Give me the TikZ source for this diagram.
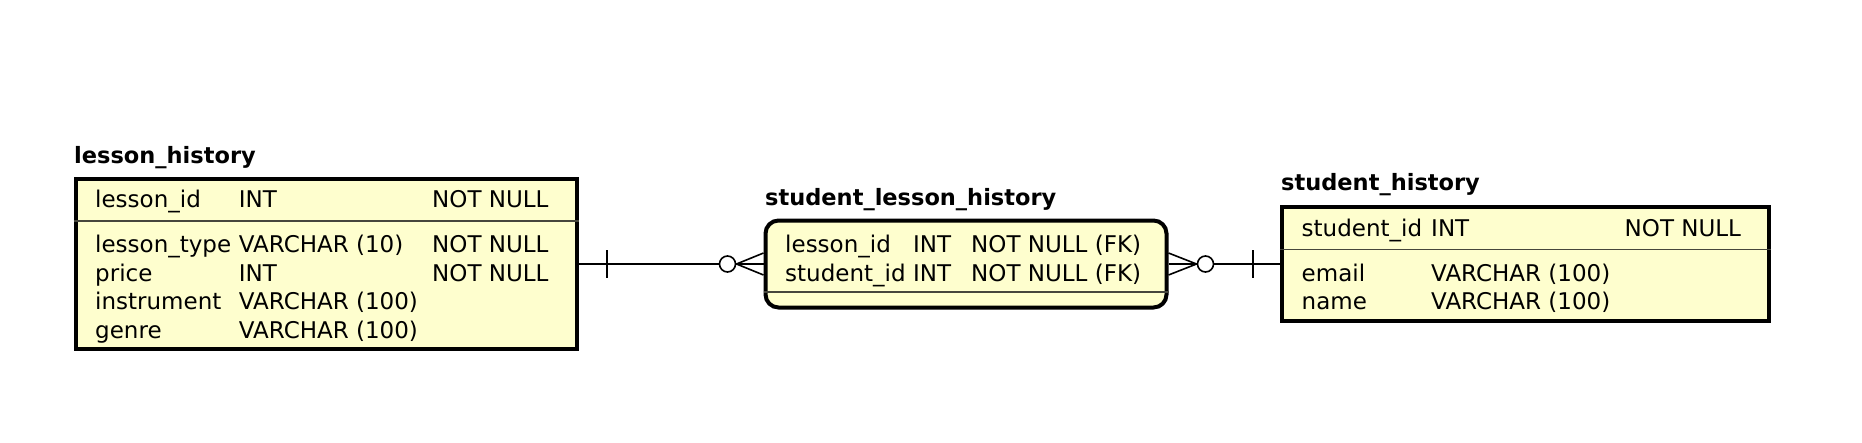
\documentclass[tikz,border=0pt]{standalone}
\usepackage{fontspec}
\setmainfont{DejaVu Sans}
\newfontfamily\titlefont{DejaVu Sans Bold}
\usetikzlibrary{positioning,calc}
\definecolor{tablefill}{RGB}{254,254,206}
\definecolor{seprule}{RGB}{70,70,60}

\begin{document}
\begin{tikzpicture}[x=1pt,y=-1pt,
  font=\fontsize{23}{28}\selectfont,
  tbl/.style={draw,line width=4pt,fill=tablefill,inner sep=0pt},
  sep/.style={draw=seprule,line width=1.5pt},
  ttl/.style={anchor=base west,inner sep=0pt,font=\fontsize{22.5}{28}\titlefont},
  cell/.style={anchor=base west,inner sep=0pt},
  rel/.style={line width=1.6pt}]
\useasboundingbox (0,0) rectangle (1862,442);

% lesson_history
\node[tbl,minimum width=501pt,minimum height=170pt] (lh) at (326,264) {};
\node[ttl] (lhtitle) at (74,163) {lesson\_history};
\draw[sep] (lh.west |- 0,221) -- (lh.east |- 0,221);
\foreach \yb/\cn/\ct [count=\i] in {207.5/lesson\_id/INT, 252.6/lesson\_type/VARCHAR (10),
    281.1/price/INT, 309.6/instrument/VARCHAR (100), 338.1/genre/VARCHAR (100)} {
  \node[cell] (lhname\i) at (95,\yb) {\cn};
  \node[cell] (lhtype\i) at (238.7,\yb) {\ct};
}
\node[cell] (lhnn1) at (432,207.5) {NOT NULL};
\node[cell] (lhnn2) at (432,252.6) {NOT NULL};
\node[cell] (lhnn3) at (432,281.1) {NOT NULL};

% student_lesson_history
\node[tbl,rounded corners=13pt,minimum width=401pt,minimum height=87pt] (slh) at (966,264) {};
\node[ttl] (slhtitle) at (765,205.5) {student\_lesson\_history};
\draw[sep] (slh.west |- 0,292) -- (slh.east |- 0,292);
\foreach \yb/\cn [count=\i] in {252.6/lesson\_id, 281.1/student\_id} {
  \node[cell] (slhname\i) at (785,\yb) {\cn};
  \node[cell] (slhtype\i) at (913,\yb) {INT};
  \node[cell] (slhnn\i) at (971,\yb) {NOT NULL (FK)};
}

% student_history
\node[tbl,minimum width=487pt,minimum height=114pt] (sh) at (1525.3,264) {};
\node[ttl] (shtitle) at (1281,190) {student\_history};
\draw[sep] (sh.west |- 0,249.4) -- (sh.east |- 0,249.4);
\foreach \yb/\cn/\ct [count=\i] in {236/student\_id/INT, 281.1/email/VARCHAR (100),
    309.6/name/VARCHAR (100)} {
  \node[cell] (shname\i) at (1301.5,\yb) {\cn};
  \node[cell] (shtype\i) at (1431,\yb) {\ct};
}
\node[cell] (shnn1) at (1624.5,236) {NOT NULL};

% relations
\draw[rel] (lh.east) -- (slh.west);
\draw[rel] ($(lh.east)+(28.5,-14)$) -- ($(lh.east)+(28.5,14)$);
\draw[rel] ($(slh.west)+(0,-11)$) -- ($(slh.west)+(-27,0)$) -- ($(slh.west)+(0,11)$);
\draw[rel,fill=white] ($(slh.west)+(-36,0)$) circle (8pt);

\draw[rel] (slh.east) -- (sh.west);
\draw[rel] ($(slh.east)+(0,-11)$) -- ($(slh.east)+(28,0)$) -- ($(slh.east)+(0,11)$);
\draw[rel,fill=white] ($(slh.east)+(37,0)$) circle (8pt);
\draw[rel] ($(sh.west)+(-27,-14)$) -- ($(sh.west)+(-27,14)$);
\end{tikzpicture}
\end{document}
